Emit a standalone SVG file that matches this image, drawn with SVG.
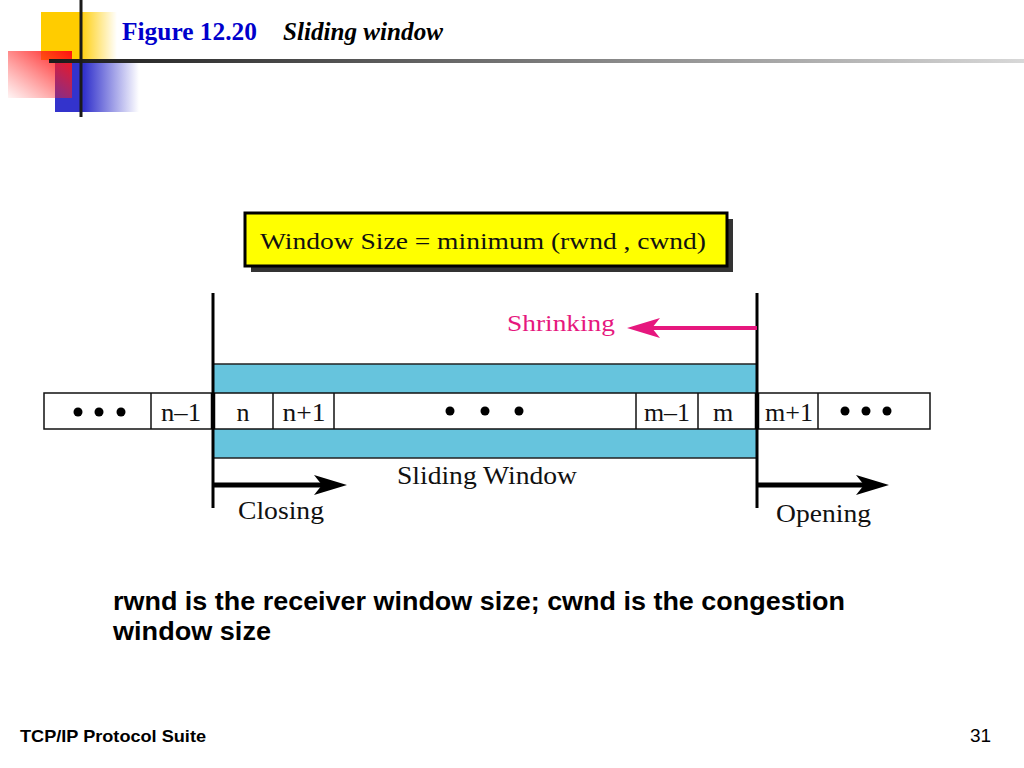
<svg xmlns="http://www.w3.org/2000/svg" width="1024" height="768" viewBox="0 0 1024 768">
<defs>
<linearGradient id="gY" x1="0" y1="0" x2="1" y2="0"><stop offset="0" stop-color="#FFCC00"/><stop offset="0.5" stop-color="#FFCC00"/><stop offset="1" stop-color="#FFCC00" stop-opacity="0"/></linearGradient>
<linearGradient id="gR" x1="1" y1="0" x2="0" y2="1"><stop offset="0" stop-color="#FF1010"/><stop offset="1" stop-color="#FF3030" stop-opacity="0.05"/></linearGradient>
<linearGradient id="gB" x1="0" y1="0" x2="1" y2="0"><stop offset="0" stop-color="#3333CC"/><stop offset="0.35" stop-color="#3333CC"/><stop offset="1" stop-color="#3333CC" stop-opacity="0"/></linearGradient>
<linearGradient id="gL" x1="0" y1="0" x2="1" y2="0"><stop offset="0" stop-color="#1a1a1a"/><stop offset="1" stop-color="#d8d8d8"/></linearGradient>
</defs>
<style>
.lbl{font-family:"Liberation Serif","Times New Roman",serif;font-size:22px;fill:#111}
.num{font-size:26px}
.cell{fill:#fff;stroke:#111;stroke-width:1.5}
.dot{fill:#000}
.bold{font-family:"Liberation Sans",Arial,sans-serif;font-weight:bold;fill:#000}
.headB{fill:#000}
.headM{fill:#E6177E}
</style>
<rect width="1024" height="768" fill="#fff"/>
<g id="header">
<rect x="41" y="12" width="76" height="48" fill="url(#gY)"/>
<rect x="55" y="63" width="84" height="49" fill="url(#gB)"/>
<rect x="8" y="51" width="64" height="47" fill="url(#gR)"/>
<rect x="49" y="59" width="975" height="4" fill="url(#gL)"/>
<rect x="79.5" y="0" width="3" height="117" fill="#1a1a1a"/>
<text x="122" y="40" style="font-family:'Liberation Serif','Times New Roman',serif;font-size:25px;font-weight:bold;fill:#0000CC" textLength="135" lengthAdjust="spacingAndGlyphs">Figure 12.20</text>
<text x="283" y="40" style="font-family:'Liberation Serif','Times New Roman',serif;font-size:25px;font-weight:bold;font-style:italic;fill:#000" textLength="160" lengthAdjust="spacingAndGlyphs">Sliding window</text>
</g>
<g id="formula">
<rect x="251" y="219" width="482" height="53" fill="#333"/>
<rect x="245" y="213" width="482" height="53" fill="#FFFF00" stroke="#000" stroke-width="3"/>
<text x="260" y="249" class="lbl" style="font-size:24px" textLength="446" lengthAdjust="spacingAndGlyphs">Window Size = minimum (rwnd , cwnd)</text>
</g>
<g id="window">
<rect x="213" y="364" width="544" height="94" fill="#66C4DD" stroke="#222" stroke-width="1.5"/>
<rect x="44" y="393" width="886" height="36" class="cell"/>
<g stroke="#111" stroke-width="1.5">
<line x1="151" y1="393" x2="151" y2="429"/>
<line x1="273" y1="393" x2="273" y2="429"/>
<line x1="334" y1="393" x2="334" y2="429"/>
<line x1="636" y1="393" x2="636" y2="429"/>
<line x1="698" y1="393" x2="698" y2="429"/>
<line x1="818" y1="393" x2="818" y2="429"/>
</g>
<circle class="dot" cx="78" cy="412" r="4.5"/><circle class="dot" cx="99" cy="412" r="4.5"/><circle class="dot" cx="121" cy="412" r="4.5"/>
<circle class="dot" cx="450" cy="411" r="4.5"/><circle class="dot" cx="485" cy="411" r="4.5"/><circle class="dot" cx="519" cy="411" r="4.5"/>
<circle class="dot" cx="845" cy="411" r="4.5"/><circle class="dot" cx="866" cy="411" r="4.5"/><circle class="dot" cx="887" cy="411" r="4.5"/>
<text x="181" y="421" class="lbl num" text-anchor="middle" textLength="40" lengthAdjust="spacingAndGlyphs">n–1</text>
<text x="243" y="421" class="lbl num" text-anchor="middle">n</text>
<text x="304" y="421" class="lbl num" text-anchor="middle" textLength="43" lengthAdjust="spacingAndGlyphs">n+1</text>
<text x="667" y="421" class="lbl num" text-anchor="middle" textLength="46" lengthAdjust="spacingAndGlyphs">m–1</text>
<text x="723" y="421" class="lbl num" text-anchor="middle">m</text>
<text x="789" y="421" class="lbl num" text-anchor="middle" textLength="48" lengthAdjust="spacingAndGlyphs">m+1</text>
<text x="397" y="484" class="lbl" style="font-size:25px" textLength="180" lengthAdjust="spacingAndGlyphs">Sliding Window</text>
</g>
<g id="connectors">
<line x1="213" y1="293" x2="213" y2="508" stroke="#000" stroke-width="3"/>
<line x1="213" y1="393" x2="213" y2="429" stroke="#000" stroke-width="4.5"/>
<line x1="757" y1="293" x2="757" y2="508" stroke="#000" stroke-width="3"/>
<line x1="757" y1="393" x2="757" y2="429" stroke="#000" stroke-width="4.5"/>
<line x1="757" y1="328" x2="650" y2="328" stroke="#E6177E" stroke-width="4"/>
<path class="headM" d="M627,328 L660,318 L652,328 L660,338 Z"/>
<line x1="213" y1="485" x2="325" y2="485" stroke="#000" stroke-width="5"/>
<path class="headB" d="M347,485 L314,475 L322,485 L314,495 Z"/>
<line x1="757" y1="485" x2="867" y2="485" stroke="#000" stroke-width="5"/>
<path class="headB" d="M889,485 L856,475 L864,485 L856,495 Z"/>
</g>
<g id="labels">
<text x="507" y="331" class="lbl" style="fill:#E6177E;font-size:24px" textLength="108" lengthAdjust="spacingAndGlyphs">Shrinking</text>
<text x="238" y="519" class="lbl" style="font-size:26px" textLength="86" lengthAdjust="spacingAndGlyphs">Closing</text>
<text x="776" y="522" class="lbl" style="font-size:26px" textLength="95" lengthAdjust="spacingAndGlyphs">Opening</text>
</g>
<g id="caption">
<text x="113" y="610" class="bold" style="font-size:25px" textLength="732" lengthAdjust="spacingAndGlyphs">rwnd is the receiver window size; cwnd is the congestion</text>
<text x="113" y="640" class="bold" style="font-size:25px" textLength="158" lengthAdjust="spacingAndGlyphs">window size</text>
</g>
<g id="footer">
<text x="20" y="742" class="bold" style="font-size:17px" textLength="186" lengthAdjust="spacingAndGlyphs">TCP/IP Protocol Suite</text>
<text x="970" y="742" style="font-family:'Liberation Sans',Arial,sans-serif;font-size:19px;fill:#000">31</text>
</g>
</svg>
